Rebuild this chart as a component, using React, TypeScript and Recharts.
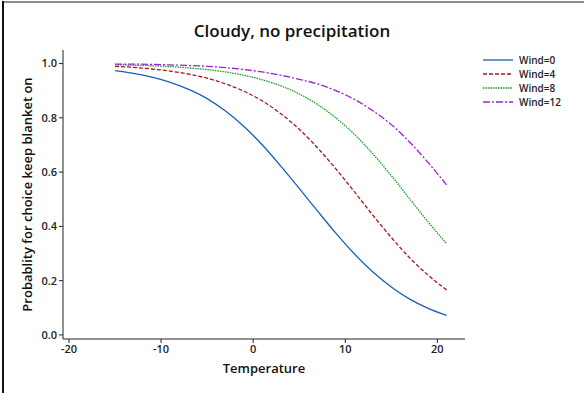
import { LineChart, Line, XAxis, YAxis } from "recharts";

// Temperature grid (degrees)
const temps = [-15, -13, -11, -9, -7, -5, -3, -1, 1, 3, 5, 7, 9, 11, 13, 15, 17, 19, 21];

// Predicted probability of keeping the blanket on, per wind speed
const wind0 = [0.974, 0.964, 0.95, 0.931, 0.905, 0.871, 0.825, 0.768, 0.7, 0.622, 0.54, 0.456, 0.374, 0.298, 0.232, 0.177, 0.132, 0.098, 0.072];
const wind4 = [0.99, 0.986, 0.98, 0.972, 0.961, 0.946, 0.925, 0.898, 0.862, 0.815, 0.758, 0.689, 0.611, 0.527, 0.441, 0.359, 0.284, 0.22, 0.166];
const wind8 = [0.996, 0.994, 0.992, 0.989, 0.984, 0.978, 0.969, 0.957, 0.94, 0.918, 0.888, 0.849, 0.799, 0.739, 0.667, 0.587, 0.501, 0.416, 0.336];
const wind12 = [0.998, 0.998, 0.997, 0.995, 0.993, 0.99, 0.985, 0.978, 0.969, 0.957, 0.942, 0.925, 0.9, 0.868, 0.826, 0.775, 0.71, 0.635, 0.553];

const xTicks = [-20, -10, 0, 10, 20];
const yTicks = [0, 0.2, 0.4, 0.6, 0.8, 1.0];

const series = [
  { key: "w0", name: "Wind=0", color: "#1a5fb8", dash: undefined },
  { key: "w4", name: "Wind=4", color: "#a01c1c", dash: "4 2" },
  { key: "w8", name: "Wind=8", color: "#1e9a2a", dash: "1.5 1" },
  { key: "w12", name: "Wind=12", color: "#9a24d2", dash: "7 2 2 2" },
];

const chartData = temps.map((t, i) => ({
  t,
  w0: wind0[i],
  w4: wind4[i],
  w8: wind8[i],
  w12: wind12[i],
}));

const font = "'Open Sans', 'Noto Sans', sans-serif";

const LegendBox = () => (
  <svg width={100} height={60} style={{ position: "absolute", left: 480, top: 53 }}>
    {series.map((s, i) => (
      <g key={s.key} transform={`translate(0, ${i * 14})`}>
        <line x1={3} x2={33} y1={7} y2={7} stroke={s.color} strokeWidth={1.3} strokeDasharray={s.dash} />
        <text x={39} y={11} fontSize={10} fontWeight={600} fill="#222" fontFamily={font}>
          {s.name}
        </text>
      </g>
    ))}
  </svg>
);

export default function App() {
  return (
    <div style={{ position: "absolute", left: 0, top: 0, width: 584, height: 393, background: "#fff", fontFamily: font }}>
      <div style={{ position: "absolute", left: 2, top: 1, width: 582, height: 2, background: "#8c8c8c" }} />
      <div style={{ position: "absolute", left: 2, top: 1, width: 2, height: 392, background: "#111" }} />
      <div
        style={{
          position: "absolute",
          left: 0,
          top: 19,
          width: 584,
          textAlign: "center",
          fontSize: 17,
          fontWeight: 600,
          color: "#111",
        }}
      >
        Cloudy, no precipitation
      </div>
      <LineChart
        width={584}
        height={393}
        data={chartData}
        margin={{ top: 50, right: 119, bottom: 0, left: 0 }}
        style={{ position: "absolute", left: 0, top: 0 }}
      >
        <XAxis
          dataKey="t"
          type="number"
          domain={[-20.65, 23]}
          ticks={xTicks}
          allowDataOverflow
          height={54}
          stroke="#222"
          tickSize={4}
          tick={{ fontSize: 11, fontWeight: 600, fill: "#222", fontFamily: font }}
          label={{ value: "Temperature", position: "insideBottom", offset: 20, fontSize: 13, fontWeight: 600, fill: "#111", fontFamily: font }}
        />
        <YAxis
          type="number"
          domain={[-0.015, 1.05]}
          ticks={yTicks}
          allowDataOverflow
          width={63}
          stroke="#222"
          tickSize={4}
          tickFormatter={(v: number) => v.toFixed(1)}
          tick={{ fontSize: 11, fontWeight: 600, fill: "#222", fontFamily: font }}
          label={{
            value: "Probablity for choice keep blanket on",
            angle: -90,
            position: "center",
            dx: -4,
            fontSize: 13,
            fontWeight: 600,
            fill: "#111",
            fontFamily: font,
          }}
        />
        {series.map((s) => (
          <Line
            key={s.key}
            type="monotone"
            dataKey={s.key}
            name={s.name}
            stroke={s.color}
            strokeWidth={1.3}
            strokeDasharray={s.dash}
            dot={false}
            isAnimationActive={false}
          />
        ))}
      </LineChart>
      <LegendBox />
    </div>
  );
}
